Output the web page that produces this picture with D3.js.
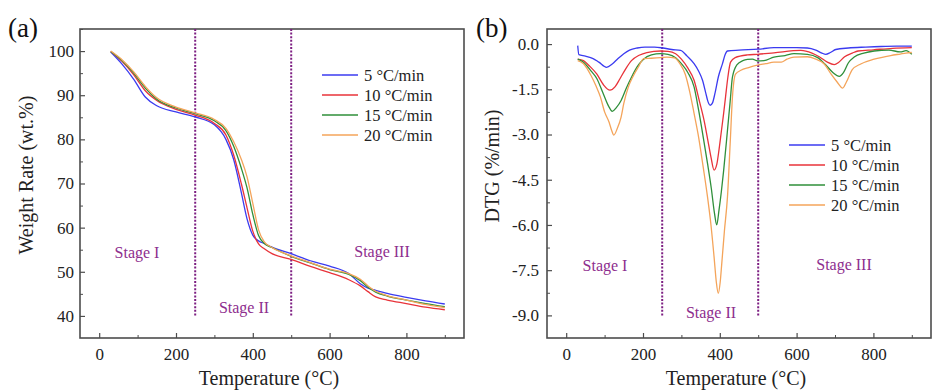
<!DOCTYPE html>
<meta charset="utf-8">
<script src="https://d3js.org/d3.v7.min.js"></script>
<style>
body { margin: 0; background: #fff; }
text { font-family: "Liberation Serif", "Times New Roman", serif; }
</style>
<div id="chart"></div>
<script>

// ---- data ----
var rates = ["5 \u00B0C/min", "10 \u00B0C/min", "15 \u00B0C/min", "20 \u00B0C/min"];
var colors = ["#3b3bf0", "#e8333a", "#2f8f3a", "#f4a45a"];

// (a) TGA, weight % on a shared temperature grid
var tgaTemp = [30, 60, 90, 120, 150, 200, 250, 300, 330, 350, 370, 385, 400, 415, 430, 450, 500, 550, 600, 650, 680, 700, 720, 750, 800, 850, 900];
var tga5  = [99.8, 97.0, 93.6, 89.6, 87.6, 86.2, 85.1, 83.3, 80.0, 75.5, 68.0, 62.0, 58.3, 57.0, 56.4, 55.6, 54.1, 52.5, 51.3, 49.6, 47.3, 46.3, 45.8, 45.1, 44.2, 43.4, 42.7];
var tga10 = [99.9, 97.6, 94.6, 91.0, 88.8, 86.8, 85.5, 83.6, 81.0, 76.5, 70.0, 64.5, 59.2, 56.3, 55.2, 54.1, 52.8, 51.2, 49.8, 48.2, 46.8, 45.5, 44.3, 43.6, 42.8, 42.0, 41.4];
var tga15 = [99.9, 97.8, 95.0, 91.6, 89.1, 87.1, 85.8, 84.2, 82.0, 78.5, 73.5, 69.0, 63.0, 58.2, 56.4, 55.5, 53.5, 52.0, 50.5, 49.4, 48.0, 46.5, 45.4, 44.5, 43.6, 42.8, 42.1];
var tga20 = [100.0, 98.0, 95.3, 92.0, 89.4, 87.3, 86.0, 84.5, 82.5, 79.5, 75.5, 71.5, 65.5, 59.5, 56.8, 55.5, 53.6, 52.1, 50.6, 49.6, 48.3, 46.8, 45.6, 44.6, 43.6, 42.6, 41.9];

// (b) DTG, [temperature, %/min] pairs per heating rate
var dtg5 = [[30,-0.05],[33,-0.35],[50,-0.4],[70,-0.48],[85,-0.6],[105,-0.77],[120,-0.66],[135,-0.48],[150,-0.32],[165,-0.2],[185,-0.13],[205,-0.1],[230,-0.1],[252,-0.13],[275,-0.18],[298,-0.21],[315,-0.4],[333,-0.65],[345,-0.9],[355,-1.2],[363,-1.6],[369,-1.9],[375,-2.03],[381,-1.95],[388,-1.6],[396,-1.1],[407,-0.65],[414,-0.35],[420,-0.23],[450,-0.2],[500,-0.17],[541,-0.12],[600,-0.12],[628,-0.13],[650,-0.2],[666,-0.3],[676,-0.34],[688,-0.28],[702,-0.18],[735,-0.13],[780,-0.1],[820,-0.08],[860,-0.07],[900,-0.07]];
var dtg10 = [[30,-0.5],[45,-0.55],[60,-0.72],[80,-1.0],[97,-1.35],[114,-1.53],[127,-1.42],[140,-1.15],[155,-0.82],[170,-0.55],[190,-0.37],[210,-0.28],[246,-0.23],[265,-0.24],[285,-0.32],[300,-0.5],[317,-0.8],[333,-1.2],[347,-1.9],[359,-2.53],[369,-3.2],[377,-3.75],[385,-4.18],[392,-4.0],[398,-3.5],[404,-2.9],[410,-2.3],[415,-1.75],[421,-1.1],[428,-0.6],[440,-0.45],[472,-0.36],[498,-0.34],[541,-0.29],[611,-0.21],[640,-0.3],[660,-0.43],[680,-0.6],[698,-0.68],[710,-0.6],[725,-0.42],[745,-0.3],[760,-0.23],[800,-0.19],[850,-0.14],[900,-0.12]];
var dtg15 = [[30,-0.5],[45,-0.6],[65,-0.9],[80,-1.15],[95,-1.6],[110,-2.05],[120,-2.23],[131,-2.1],[143,-1.87],[157,-1.45],[170,-1.1],[185,-0.75],[200,-0.52],[222,-0.36],[246,-0.32],[265,-0.34],[285,-0.45],[300,-0.65],[317,-0.95],[333,-1.42],[345,-2.2],[357,-3.1],[368,-3.96],[378,-4.8],[386,-5.6],[392,-6.0],[398,-5.5],[404,-4.9],[410,-4.2],[420,-2.86],[427,-1.9],[433,-1.09],[445,-0.68],[460,-0.55],[472,-0.51],[485,-0.5],[498,-0.56],[515,-0.55],[541,-0.43],[570,-0.38],[593,-0.32],[628,-0.34],[655,-0.45],[675,-0.68],[695,-0.95],[711,-1.07],[722,-0.95],[735,-0.62],[750,-0.43],[775,-0.3],[802,-0.23],[840,-0.2],[870,-0.26],[885,-0.22],[900,-0.34]];
var dtg20 = [[30,-0.55],[45,-0.65],[65,-1.05],[78,-1.4],[89,-1.75],[100,-2.25],[112,-2.6],[118,-2.85],[124,-3.02],[133,-2.8],[143,-2.42],[150,-1.97],[162,-1.42],[175,-1.05],[188,-0.76],[202,-0.48],[222,-0.47],[246,-0.45],[262,-0.43],[282,-0.46],[296,-0.65],[310,-1.0],[322,-1.6],[333,-2.3],[345,-3.1],[357,-4.1],[368,-5.07],[377,-6.0],[385,-7.05],[391,-7.9],[396,-8.27],[401,-7.9],[405,-7.3],[412,-6.2],[420,-5.07],[427,-3.3],[433,-1.75],[441,-1.0],[455,-0.87],[475,-0.78],[498,-0.7],[520,-0.65],[541,-0.6],[560,-0.6],[575,-0.5],[593,-0.43],[628,-0.42],[650,-0.5],[672,-0.66],[690,-1.0],[705,-1.25],[720,-1.46],[730,-1.25],[745,-0.85],[767,-0.66],[802,-0.5],[845,-0.38],[870,-0.33],[885,-0.3],[900,-0.28]];

// stage boundaries and labels
var stageBounds = [250, 500];
var stageNames = ["Stage I", "Stage II", "Stage III"];

// ---- layout ----
var width = 934, height = 392;
var svg = d3.select("#chart").append("svg")
    .attr("width", width)
    .attr("height", height);

var frameColor = "#4d4d4d";
var purple = "#7d1f82";

function panel(opt) {
  var g = svg.append("g");
  var x = d3.scaleLinear().domain([-50, 950]).range([opt.left, opt.right]);
  var y = d3.scaleLinear().domain(opt.ydomain).range([opt.bottom, opt.top]);

  // minor ticks
  g.append("g")
    .attr("transform", "translate(0," + opt.bottom + ")")
    .call(d3.axisBottom(x).tickValues([100, 300, 500, 700, 900]).tickSize(-3).tickFormat(""))
    .call(function(s) { s.select(".domain").remove(); s.selectAll("line").attr("stroke", frameColor); });
  g.append("g")
    .attr("transform", "translate(" + opt.left + ",0)")
    .call(d3.axisLeft(y).tickValues(opt.yminor).tickSize(-3).tickFormat(""))
    .call(function(s) { s.select(".domain").remove(); s.selectAll("line").attr("stroke", frameColor); });

  // major ticks
  g.append("g")
    .attr("transform", "translate(0," + opt.bottom + ")")
    .call(d3.axisBottom(x).tickValues([0, 200, 400, 600, 800]).tickSize(-5).tickPadding(10))
    .call(function(s) {
      s.select(".domain").remove();
      s.selectAll("line").attr("stroke", frameColor).attr("stroke-width", 1.2);
      s.selectAll("text").attr("font-family", "Liberation Serif").attr("font-size", 17).attr("fill", "#222");
    });
  g.append("g")
    .attr("transform", "translate(" + opt.left + ",0)")
    .call(d3.axisLeft(y).tickValues(opt.yticks).tickSize(-5).tickPadding(opt.ypad).tickFormat(opt.yfmt))
    .call(function(s) {
      s.select(".domain").remove();
      s.selectAll("line").attr("stroke", frameColor).attr("stroke-width", 1.2);
      s.selectAll("text").attr("font-family", "Liberation Serif").attr("font-size", 17).attr("fill", "#222");
    });

  // frame
  g.append("rect")
    .attr("x", opt.left).attr("y", opt.top)
    .attr("width", opt.right - opt.left).attr("height", opt.bottom - opt.top)
    .attr("fill", "none").attr("stroke", frameColor).attr("stroke-width", 1.6);

  // stage dividers
  g.selectAll(".stage-line")
    .data(stageBounds)
    .enter().append("line")
      .attr("x1", function(d) { return x(d); })
      .attr("x2", function(d) { return x(d); })
      .attr("y1", opt.top)
      .attr("y2", y(opt.ydomain[0] + opt.dividerEnd))
      .attr("stroke", purple)
      .attr("stroke-width", 2)
      .attr("stroke-dasharray", "2,1.6");

  // curves
  var line = d3.line()
    .x(function(d) { return x(d[0]); })
    .y(function(d) { return y(d[1]); })
    .curve(d3.curveMonotoneX);
  opt.series.forEach(function(s, i) {
    g.append("path")
      .datum(s)
      .attr("fill", "none")
      .attr("stroke", colors[i])
      .attr("stroke-width", 1.3)
      .attr("d", line);
  });

  // stage labels
  opt.stagePos.forEach(function(p, i) {
    g.append("text")
      .attr("x", p[0]).attr("y", p[1])
      .attr("text-anchor", "middle")
      .attr("font-size", 16)
      .attr("fill", "#8e2e8e")
      .text(stageNames[i]);
  });

  // legend
  rates.forEach(function(r, i) {
    var ly = opt.legend[1] + i * 20;
    g.append("line")
      .attr("x1", opt.legend[0]).attr("x2", opt.legend[0] + 36)
      .attr("y1", ly).attr("y2", ly)
      .attr("stroke", colors[i]).attr("stroke-width", 1.4);
    g.append("text")
      .attr("x", opt.legend[0] + 42).attr("y", ly + 5.5)
      .attr("font-size", 16.5)
      .attr("fill", "#222")
      .text(r);
  });

  // axis titles
  g.append("text")
    .attr("x", (opt.left + opt.right) / 2 - 3)
    .attr("y", 385)
    .attr("text-anchor", "middle")
    .attr("font-size", 20)
    .attr("fill", "#222")
    .text("Temperature (\u00B0C)");
  g.append("text")
    .attr("transform", "translate(" + opt.ytitle[0] + "," + opt.ytitle[1] + ") rotate(-90)")
    .attr("text-anchor", "middle")
    .attr("font-size", 20)
    .attr("fill", "#222")
    .text(opt.ylabel);

  // panel letter
  g.append("text")
    .attr("x", opt.letter[0]).attr("y", opt.letter[1])
    .attr("font-size", 27)
    .attr("fill", "#111")
    .text(opt.letterText);
}

function zipTga(vals) { return tgaTemp.map(function(t, i) { return [t, vals[i]]; }); }

panel({
  left: 80, right: 464, top: 29, bottom: 338,
  ydomain: [35, 105],
  yticks: [40, 50, 60, 70, 80, 90, 100],
  yminor: [45, 55, 65, 75, 85, 95, 105],
  yfmt: d3.format("d"),
  ypad: 6,
  dividerEnd: 5,
  series: [zipTga(tga5), zipTga(tga10), zipTga(tga15), zipTga(tga20)],
  stagePos: [[137, 258], [244, 313], [382, 257]],
  legend: [322, 75],
  ylabel: "Weight Rate (wt.%)",
  ytitle: [33, 175],
  letter: [8, 37],
  letterText: "(a)"
});

panel({
  left: 547, right: 931, top: 29, bottom: 338,
  ydomain: [-9.75, 0.5],
  yticks: [0, -1.5, -3, -4.5, -6, -7.5, -9],
  yminor: [-0.75, -2.25, -3.75, -5.25, -6.75, -8.25],
  yfmt: function(d) { return d.toFixed(1); },
  ypad: 8,
  dividerEnd: 0.75,
  series: [dtg5, dtg10, dtg15, dtg20],
  stagePos: [[605, 271], [711, 318], [844, 270]],
  legend: [789, 145],
  ylabel: "DTG (%/min)",
  ytitle: [499, 166],
  letter: [476, 37],
  letterText: "(b)"
});

</script>
